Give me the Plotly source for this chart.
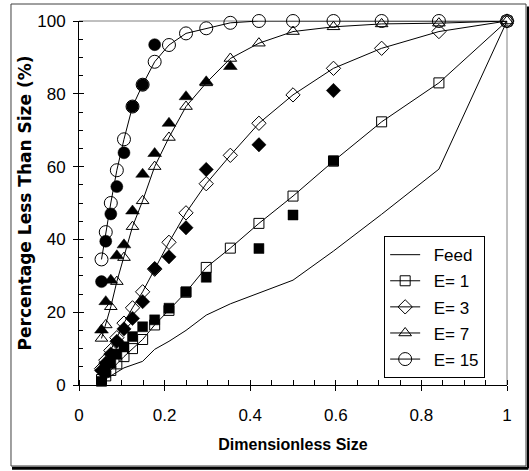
import plotly.graph_objects as go

# Dimensionless sieve sizes (quarter-root-two series)
size_all = [1.0, 0.8409, 0.7071, 0.5946, 0.5, 0.4204, 0.3536, 0.2973, 0.25,
            0.2102, 0.1768, 0.1487, 0.125, 0.1051, 0.0884, 0.0743, 0.0625, 0.0526]

# Cumulative percentage passing
feed = [100, 59.3, 46.9, 36.8, 28.8, 25.3, 22.3, 19.2, 15.0,
        12.0, 9.8, 6.5, 5.5, 4.7, 3.5, 2.5, 1.8, 1.0]
sim_e1 = [100, 83.0, 72.3, 61.5, 51.9, 44.4, 37.6, 32.3, 25.5,
          20.5, 16.5, 12.5, 10.0, 7.8, 5.8, 4.0, 2.5, 1.5]
sim_e3 = [100, 97.1, 92.5, 87.0, 79.7, 71.9, 63.1, 55.3, 47.3,
          39.2, 31.8, 25.6, 21.2, 17.0, 13.0, 9.5, 6.8, 4.5]
sim_e7 = [100, 99.4, 99.2, 98.4, 97.1, 93.9, 89.7, 83.0, 76.5,
          68.0, 60.0, 50.6, 43.5, 35.0, 28.4, 21.5, 16.5, 12.8]
sim_e15 = [100, 100, 100, 100, 100, 100, 99.5, 98.0, 96.6,
           93.4, 88.8, 82.5, 76.5, 67.5, 59.0, 50.0, 42.0, 34.5]

# Measured points
exp_e1_x = [0.5946, 0.5, 0.4204, 0.2973, 0.25, 0.2102, 0.1768, 0.1487,
            0.125, 0.1051, 0.0884, 0.0743, 0.0625, 0.0526]
exp_e1_y = [61.6, 46.7, 37.5, 29.6, 25.6, 21.1, 17.9, 16.0,
            13.3, 10.5, 8.5, 6.0, 3.5, 1.0]
exp_e3_x = [0.5946, 0.4204, 0.2973, 0.25, 0.2102, 0.1768, 0.1487,
            0.125, 0.1051, 0.0884, 0.0743, 0.0625, 0.0526]
exp_e3_y = [80.9, 66.0, 59.2, 43.2, 35.2, 32.0, 22.9,
            18.3, 15.4, 12.0, 8.5, 6.0, 4.0]
exp_e7_x = [0.3536, 0.2973, 0.25, 0.2102, 0.1768, 0.1487, 0.125,
            0.1051, 0.0884, 0.0743, 0.0625, 0.0526]
exp_e7_y = [87.5, 83.3, 79.2, 71.9, 63.6, 57.9, 47.8,
            38.5, 35.5, 28.8, 22.9, 15.1]
exp_e15_x = [0.1768, 0.1487, 0.125, 0.1051, 0.0884, 0.0743, 0.0625, 0.0526]
exp_e15_y = [93.5, 82.5, 76.5, 63.8, 54.5, 47.0, 39.5, 28.4]

FONT = "Liberation Sans, Arial, sans-serif"
BLACK = "#000000"
PAD = "\u2002"  # fixed-width gap between legend symbol and label

fig = go.Figure()

fig.add_trace(go.Scatter(x=size_all, y=feed, mode="lines", name=PAD + "Feed",
                         legendgroup="g0",
                         line=dict(color=BLACK, width=1), cliponaxis=False))

sims = [("E= 1", sim_e1, "square-open", 10),
        ("E= 3", sim_e3, "diamond-open", 11),
        ("E= 7", sim_e7, "triangle-up-open", 11),
        ("E= 15", sim_e15, "circle-open", 13)]
for i, (name, ys, sym, sz) in enumerate(sims):
    fig.add_trace(go.Scatter(
        x=size_all, y=ys, mode="lines+markers", name=PAD + name,
        legendgroup=f"g{i + 1}",
        line=dict(color=BLACK, width=1),
        marker=dict(symbol=sym, size=sz, color=BLACK,
                    line=dict(color=BLACK, width=1)),
        cliponaxis=False))

exps = [(exp_e1_x, exp_e1_y, "square", 10),
        (exp_e3_x, exp_e3_y, "diamond", 11),
        (exp_e7_x, exp_e7_y, "triangle-up", 12),
        (exp_e15_x, exp_e15_y, "circle", 12)]
for xs, ys, sym, sz in exps:
    fig.add_trace(go.Scatter(
        x=xs, y=ys, mode="markers", showlegend=False,
        marker=dict(symbol=sym, size=sz, color=BLACK,
                    line=dict(color=BLACK, width=0.5)),
        cliponaxis=False))

# Overlay axes to give the major ticks a crossing look
fig.add_trace(go.Scatter(x=[0, 1], y=[0, 100], xaxis="x2", yaxis="y2",
                         mode="markers", marker=dict(opacity=0),
                         showlegend=False, hoverinfo="skip"))

fig.update_layout(
    width=529, height=471,
    margin=dict(l=79, r=22, t=21, b=86),
    paper_bgcolor="white", plot_bgcolor="white",
    font=dict(family=FONT, color=BLACK, size=16),
    showlegend=True,
    legend=dict(x=0.713, y=0.409, xanchor="left", yanchor="top",
                bgcolor="white", bordercolor=BLACK, borderwidth=1,
                font=dict(size=17, family=FONT), tracegroupgap=1,
                itemwidth=30),
    xaxis=dict(range=[0, 1], dtick=0.2, tick0=0, showgrid=False,
               zeroline=False, showline=True, linecolor=BLACK, linewidth=1,
               ticks="outside", ticklen=5, tickcolor=BLACK,
               tickfont=dict(size=17), ticklabelstandoff=10,
               minor=dict(ticks="inside", dtick=0.05, ticklen=5,
                          tickcolor=BLACK, showgrid=False),
               title=dict(text="<b>Dimensionless Size</b>",
                          font=dict(size=16), standoff=14)),
    yaxis=dict(range=[0, 100], dtick=20, tick0=0, showgrid=False,
               zeroline=False, showline=True, linecolor=BLACK, linewidth=1,
               ticks="outside", ticklen=5, tickcolor=BLACK,
               tickfont=dict(size=17), ticklabelstandoff=4,
               minor=dict(ticks="inside", dtick=5, ticklen=4,
                          tickcolor=BLACK, showgrid=False),
               title=dict(text="<b>Percentage Less Than Size (%)</b>",
                          font=dict(size=17, family="DejaVu Sans, sans-serif"),
                          standoff=1)),
    xaxis2=dict(range=[0, 1], dtick=0.2, overlaying="x", matches="x",
                showticklabels=False, ticks="inside", ticklen=5,
                tickcolor=BLACK, showgrid=False, zeroline=False,
                showline=False, anchor="y"),
    yaxis2=dict(range=[0, 100], dtick=20, overlaying="y", matches="y",
                showticklabels=False, ticks="inside", ticklen=5,
                tickcolor=BLACK, showgrid=False, zeroline=False,
                showline=False, anchor="x"),
    shapes=[
        # light frame on top and right of plotting area
        dict(type="line", xref="paper", yref="paper", x0=0, x1=1, y0=1, y1=1,
             line=dict(color="#808080", width=1), layer="below"),
        dict(type="line", xref="paper", yref="paper", x0=1, x1=1, y0=0, y1=1,
             line=dict(color="#808080", width=1), layer="below"),
        # outer chart border with drop shadow
        dict(type="rect", xref="paper", yref="paper",
             x0=-0.1589, x1=1.0444, y0=-0.2225, y1=1.0467,
             line=dict(color="#404040", width=1), layer="below"),
        dict(type="line", xref="paper", yref="paper",
             x0=-0.1565, x1=1.05, y0=-0.2285, y1=-0.2285,
             line=dict(color=BLACK, width=3)),
        dict(type="line", xref="paper", yref="paper",
             x0=1.05, x1=1.05, y0=-0.2285, y1=1.04,
             line=dict(color=BLACK, width=3)),
    ],
)

fig.write_html("out.html")
